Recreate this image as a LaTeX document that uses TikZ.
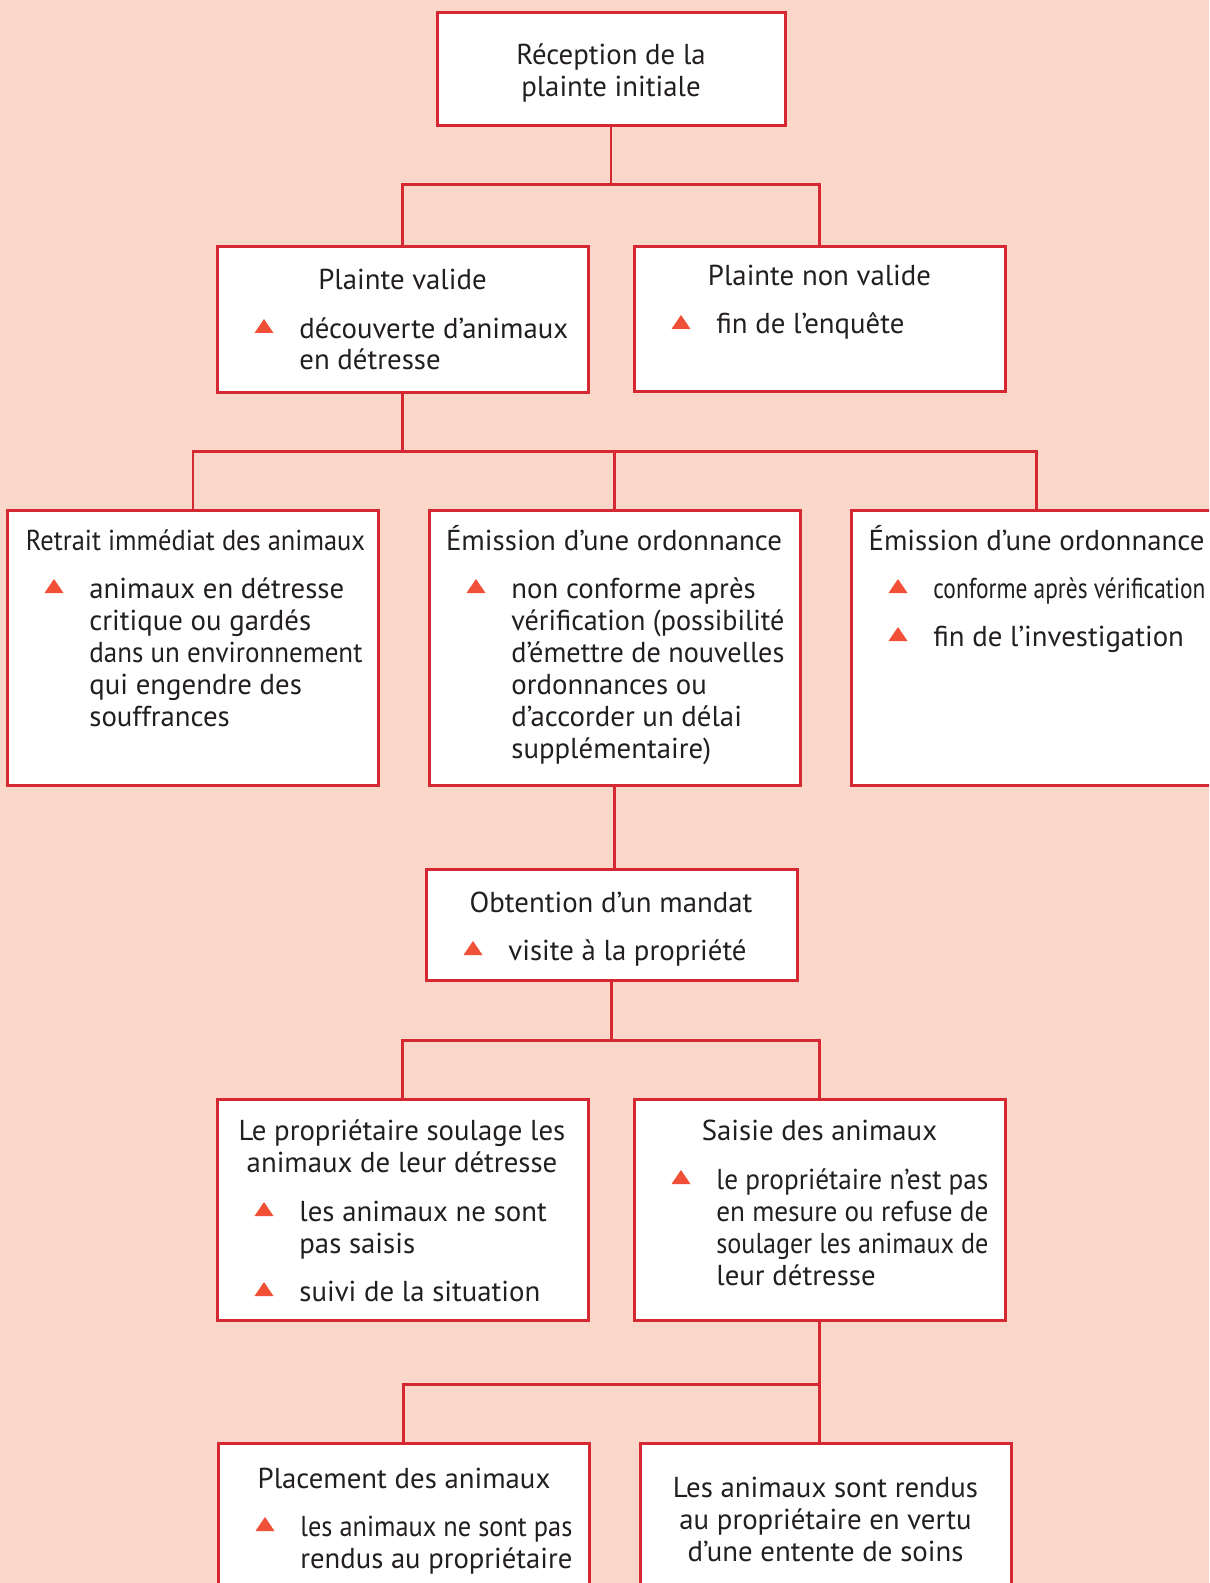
\documentclass[tikz,border=0pt]{standalone}
\usepackage{fontspec}
\setmainfont{PT Sans}
\usepackage{graphicx}
\usetikzlibrary{positioning}
\definecolor{bgpeach}{HTML}{FAD7C8}
\definecolor{linered}{HTML}{D62832}
\definecolor{trired}{HTML}{F05037}
\definecolor{ink}{HTML}{231F20}
% squeeze a line to a given width
\newcommand{\fitto}[2]{\resizebox{#1}{\height}{#2}}
% red triangle bullet, (x, baseline)
\newcommand{\bul}[2]{\fill[trired] (#1,#2) ++(-9.5,-5) -- ++(19,0) -- ++(-9.5,-14) -- cycle;}
\tikzset{
        % Boxes
        node_box/.style={rectangle, draw=linered, line width=1.5pt, fill=white, inner sep=0pt, minimum width=185.5pt},
        % Titles (anchored on the baseline of the last line)
        node_title/.style={text=ink, font=\fontsize{14.4pt}{16pt}\selectfont, align=center, anchor=base, inner sep=0pt},
        % Bullet texts (anchored on the baseline of the last line)
        node_item/.style={text=ink, font=\fontsize{14.4pt}{16pt}\selectfont, align=left, anchor=base west, inner sep=0pt},
        % Connectors
        edge_link/.style={draw=linered, line width=1.4pt}
}
\begin{document}
\begin{tikzpicture}[x=0.5pt, y=-0.5pt]
            \useasboundingbox (0,0) rectangle (1209,1583);
            \fill[bgpeach] (0,0) rectangle (1209,1583);
            \clip (0,0) rectangle (1209,1583);

            % boxes
            \node[node_box, minimum width=174pt, minimum height=56.5pt] (reception) at (611,69.5) {};
            \node[node_box, minimum height=72.5pt] (valide) at (402.5,319.5) {};
            \node[node_box, minimum height=72pt] (non_valide) at (819.5,319) {};
            \node[node_box, minimum height=137.5pt] (retrait) at (193,647.5) {};
            \node[node_box, minimum height=137.5pt] (non_conforme) at (614.5,647.5) {};
            \node[node_box, minimum height=137.5pt] (conforme) at (1036.5,647.5) {};
            \node[node_box, minimum height=55.5pt] (mandat) at (611.5,924.5) {};
            \node[node_box, minimum height=110.5pt] (soulage) at (402.5,1209.5) {};
            \node[node_box, minimum height=110.5pt] (saisie) at (819.5,1209.5) {};
            \node[node_box, minimum height=120pt] (placement) at (403.5,1563) {};
            \node[node_box, minimum height=120pt] (rendus) at (825.5,1563) {};

            % connectors
            \draw[edge_link] (reception.south) -- ++(0,57) coordinate (j1);
            \draw[edge_link] (valide.north) |- (j1) -| (non_valide.north);
            \draw[edge_link] (valide.south) -- ++(0,58) coordinate (j2);
            \draw[edge_link] (retrait.north) |- (j2) -| (conforme.north);
            \draw[edge_link] (non_conforme.north) -- (non_conforme.north |- j2);
            \draw[edge_link] (non_conforme.south) -- (non_conforme.south |- mandat.north);
            \draw[edge_link] (mandat.south) -- ++(0,59) coordinate (j3);
            \draw[edge_link] (soulage.north) |- (j3) -| (saisie.north);
            \draw[edge_link] (saisie.south) -- ++(0,63) coordinate (j4);
            \draw[edge_link] (placement.north) |- (j4) -- (j4 |- rendus.north);

            % texts
            \node[node_title] (t_reception) at (611,96.5) {Réception de la\\plainte initiale};
            \node[node_title] (t_valide) at (402.5,290) {Plainte valide};
            \bul{264}{338}
            \node[node_item] (i_valide) at (299,370) {découverte d’animaux\\en détresse};
            \node[node_title] (t_non_valide) at (819.5,286) {Plainte non valide};
            \bul{681}{334}
            \node[node_item] (i_non_valide) at (716,334) {fin de l’enquête};

            \node[node_title] (t_retrait) at (195.5,550) {\fitto{169.5pt}{Retrait immédiat des animaux}};
            \bul{54}{598}
            \node[node_item] (i_retrait) at (89,726) {animaux en détresse\\critique ou gardés\\\fitto{136.5pt}{dans un environnement}\\qui engendre des\\souffrances};
            \node[node_title] (t_non_conforme) at (614,550) {\fitto{168pt}{Émission d’une ordonnance}};
            \bul{476}{598}
            \node[node_item] (i_non_conforme) at (511,758) {non conforme après\\\fitto{136.5pt}{vérification (possibilité}\\\fitto{136.5pt}{d’émettre de nouvelles}\\ordonnances ou\\d’accorder un délai\\supplémentaire)};
            \node[node_title] (t_conforme) at (1036.5,550) {\fitto{168pt}{Émission d’une ordonnance}};
            \bul{898}{598}
            \node[node_item] (i_conforme_a) at (933,598) {\fitto{136pt}{conforme après vérification}};
            \bul{898}{646}
            \node[node_item] (i_conforme_b) at (933,646) {fin de l’investigation};

            \node[node_title] (t_mandat) at (611,912) {Obtention d’un mandat};
            \bul{473}{960}
            \node[node_item] (i_mandat) at (508,960) {visite à la propriété};

            \node[node_title] (t_soulage) at (402,1172) {Le propriétaire soulage les\\animaux de leur détresse};
            \bul{264}{1221}
            \node[node_item] (i_soulage_a) at (299,1253) {les animaux ne sont\\pas saisis};
            \bul{264}{1301}
            \node[node_item] (i_soulage_b) at (299,1301) {suivi de la situation};
            \node[node_title] (t_saisie) at (819.5,1140) {Saisie des animaux};
            \bul{681}{1189}
            \node[node_item] (i_saisie) at (716,1285) {\fitto{136pt}{le propriétaire n’est pas}\\\fitto{136pt}{en mesure ou refuse de}\\\fitto{136pt}{soulager les animaux de}\\leur détresse};

            \node[node_title] (t_placement) at (404,1488.5) {Placement des animaux};
            \bul{265}{1536}
            \node[node_item] (i_placement) at (300,1568) {\fitto{136pt}{les animaux ne sont pas}\\\fitto{136pt}{rendus au propriétaire}};
            \node[node_title] (t_rendus) at (825.5,1561) {Les animaux sont rendus\\au propriétaire en vertu\\d’une entente de soins};
\end{tikzpicture}
\end{document}
